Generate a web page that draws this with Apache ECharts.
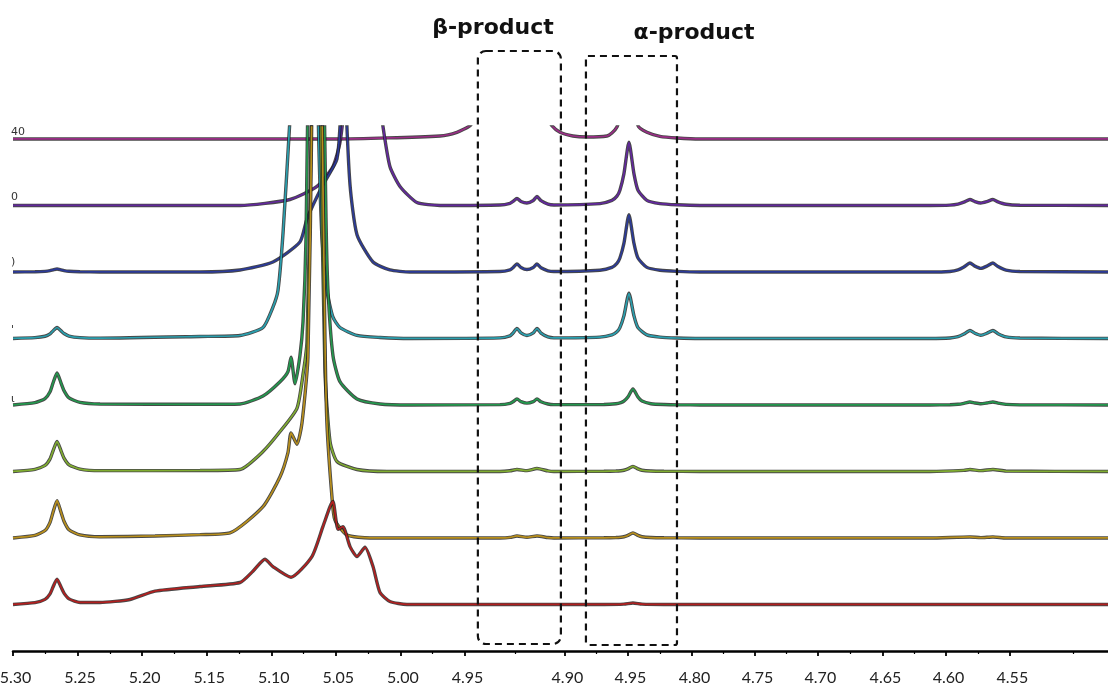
<!DOCTYPE html>
<html><head><meta charset="utf-8">
<script src="https://cdn.jsdelivr.net/npm/echarts@6/dist/echarts.min.js"></script>
<style>html,body{margin:0;padding:0;background:#fff}#c{width:1108px;height:693px}</style>
</head><body><div id="c"></div>
<script>
// ---- axis ticks (the reference axis is spliced, so labels are placed at their drawn positions) ----
const tickPos = [5.30, 5.25, 5.20, 5.15, 5.10, 5.05, 5.00, 4.95, 4.8726, 4.8238, 4.7742, 4.7254, 4.6767, 4.6263, 4.5775, 4.5280];
const tickLabels = ['5.30', '5.25', '5.20', '5.15', '5.10', '5.05', '5.00', '4.95', '4.90', '4.95', '4.80', '4.75', '4.70', '4.65', '4.60', '4.55'];
const minorPos = [5.275, 5.225, 5.175, 5.125, 5.075, 5.025, 4.975, 4.9113, 4.8482, 4.799, 4.7498, 4.701, 4.6515, 4.6019, 4.5528, 4.4788];

// ---- trace names (stack order top -> bottom) ----
const traceNames = ['40', '0', ')', "'", 'ι', '', '', ''];

// ---- spectra: [ppm, intensity above own baseline] ----
const t1 = [[5.300,0],[5.050,0],[4.9693,0.045],[4.9562,0.1],[4.9461,0.2],[4.9422,0.32],[4.9306,1.0],[4.9144,3.0],[4.8957,1.0],[4.8857,0.32],[4.8826,0.2],[4.8764,0.1],[4.8664,0.045],[4.8555,0.03],[4.8400,0.045],[4.8362,0.09],[4.8323,0.18],[4.8300,0.35],[4.8269,0.8],[4.8230,3.0],[4.8191,0.8],[4.8160,0.2],[4.8091,0.1],[4.7990,0.04],[4.7858,0.015],[4.7680,0],[4.452,0]];

const t2 = [[5.300,0],[5.1242,0],[5.0855,0.09],[5.0646,0.286],[5.0522,0.586],[5.0468,0.947],[5.0429,1.65],[5.0390,3.0],[5.0298,8.0],[5.0197,3.0],[5.0158,1.6],[5.0135,1.19],[5.0081,0.586],[5.0003,0.286],[4.9872,0.045],[4.9693,0],
 [4.9229,0.007],[4.9151,0.032],[4.9128,0.06],[4.9097,0.105],[4.9066,0.06],[4.9020,0.038],[4.8971,0.075],[4.8942,0.135],[4.8911,0.072],[4.8857,0.02],[4.8811,0.008],
 [4.8455,0.028],[4.8362,0.076],[4.8323,0.14],[4.8300,0.23],[4.8269,0.475],[4.8230,0.95],[4.8191,0.475],[4.8160,0.23],[4.8091,0.076],[4.7990,0.028],[4.7858,0.01],[4.7680,0],
 [4.5899,0],[4.5744,0.005],[4.5682,0.02],[4.5636,0.05],[4.5589,0.09],[4.5551,0.058],[4.5505,0.036],[4.5458,0.058],[4.5411,0.09],[4.5372,0.054],[4.5310,0.018],[4.5202,0.004],[4.452,0]];

const t3 = [[5.300,0],[5.2830,0.003],[5.2752,0.009],[5.2713,0.019],[5.2690,0.031],[5.2659,0.045],[5.2628,0.031],[5.2605,0.02],[5.2566,0.01],[5.2481,0.004],[5.2326,0],
 [5.1552,0],[5.1242,0.03],[5.0987,0.15],[5.0778,0.45],[5.0723,0.8],[5.0600,1.31],[5.0491,1.70],[5.0460,2.6],[5.0445,8.0],[5.0421,2.6],[5.0390,1.31],[5.0336,0.56],[5.0212,0.15],[5.0081,0.03],[4.9926,0],
 [4.9229,0.007],[4.9151,0.032],[4.9128,0.064],[4.9097,0.12],[4.9066,0.067],[4.9020,0.036],[4.8971,0.067],[4.8942,0.12],[4.8911,0.064],[4.8857,0.018],[4.8811,0.007],
 [4.8455,0.026],[4.8362,0.069],[4.8323,0.13],[4.8300,0.21],[4.8269,0.43],[4.8230,0.86],[4.8191,0.43],[4.8160,0.21],[4.8091,0.069],[4.7990,0.026],[4.7858,0.009],[4.7680,0],
 [4.5899,0],[4.5744,0.008],[4.5682,0.03],[4.5636,0.074],[4.5589,0.135],[4.5551,0.088],[4.5505,0.054],[4.5458,0.088],[4.5411,0.135],[4.5372,0.081],[4.5310,0.027],[4.5202,0.007],[4.452,0]];

const t4 = [[5.300,0],[5.2830,0.012],[5.2752,0.033],[5.2713,0.069],[5.2690,0.114],[5.2659,0.165],[5.2628,0.114],[5.2605,0.074],[5.2566,0.036],[5.2481,0.013],[5.2326,0.005],
 [5.1552,0.03],[5.1242,0.045],[5.1064,0.165],[5.0987,0.47],[5.0948,0.72],[5.0909,1.58],[5.0855,3.3],[5.0778,6.0],[5.0716,12.0],[5.0638,3.5],[5.0607,1.5],[5.0569,0.72],[5.0522,0.32],[5.0468,0.165],[5.0336,0.045],[5.0158,0.015],[4.9926,0],
 [4.9229,0.009],[4.9151,0.04],[4.9128,0.08],[4.9097,0.15],[4.9066,0.084],[4.9020,0.045],[4.8971,0.084],[4.8942,0.15],[4.8911,0.08],[4.8857,0.023],[4.8811,0.009],
 [4.8455,0.02],[4.8362,0.054],[4.8323,0.1],[4.8300,0.163],[4.8269,0.34],[4.8230,0.68],[4.8191,0.34],[4.8160,0.163],[4.8091,0.054],[4.7990,0.02],[4.7858,0.007],[4.7680,0],
 [4.5899,0],[4.5744,0.007],[4.5682,0.026],[4.5636,0.066],[4.5589,0.12],[4.5551,0.078],[4.5505,0.048],[4.5458,0.078],[4.5411,0.12],[4.5372,0.072],[4.5310,0.024],[4.5202,0.006],[4.452,0]];

const t5 = [[5.300,0],[5.2830,0.034],[5.2752,0.096],[5.2713,0.2],[5.2690,0.33],[5.2659,0.48],[5.2628,0.33],[5.2605,0.216],[5.2566,0.106],[5.2481,0.038],[5.2326,0.014],
 [5.1552,0.01],[5.1242,0.015],[5.1064,0.135],[5.0932,0.35],[5.0871,0.5],[5.0847,0.72],[5.0816,0.32],[5.0778,0.74],[5.0754,1.25],[5.0731,2.5],[5.0708,6.0],[5.0654,14.0],[5.0600,6.0],[5.0576,2.8],[5.0561,1.74],[5.0522,0.74],[5.0468,0.35],[5.0336,0.09],[5.0158,0.015],[4.9926,0],
 [4.9229,0.005],[4.9151,0.024],[4.9128,0.048],[4.9097,0.09],[4.9066,0.05],[4.9020,0.027],[4.8971,0.05],[4.8942,0.09],[4.8911,0.048],[4.8857,0.014],[4.8811,0.005],
 [4.8424,0.007],[4.8331,0.019],[4.8292,0.036],[4.8269,0.058],[4.8238,0.12],[4.8199,0.24],[4.8160,0.12],[4.8129,0.058],[4.8060,0.019],[4.7959,0.007],[4.7827,0.002],[4.7680,0],
 [4.5899,0],[4.5744,0.003],[4.5682,0.01],[4.5636,0.025],[4.5589,0.045],[4.5551,0.03],[4.5505,0.018],[4.5458,0.03],[4.5411,0.045],[4.5372,0.027],[4.5310,0.009],[4.5202,0.002],[4.452,0]];

const t6 = [[5.300,0],[5.2830,0.032],[5.2752,0.09],[5.2713,0.19],[5.2690,0.31],[5.2659,0.45],[5.2628,0.31],[5.2605,0.2],[5.2566,0.1],[5.2481,0.036],[5.2326,0.013],
 [5.1552,0.015],[5.1242,0.03],[5.1064,0.3],[5.0932,0.6],[5.0801,0.95],[5.0754,1.46],[5.0723,1.95],[5.0692,5.0],[5.0654,14.0],[5.0615,5.0],[5.0584,1.5],[5.0545,0.45],[5.0491,0.15],[5.0336,0.03],[5.0104,0],
 [4.9229,0],[4.9151,0.01],[4.9097,0.03],[4.9020,0.012],[4.8942,0.045],[4.8857,0.008],[4.8811,0],
 [4.8424,0.002],[4.8331,0.006],[4.8292,0.011],[4.8269,0.018],[4.8238,0.038],[4.8199,0.075],[4.8160,0.038],[4.8129,0.018],[4.8060,0.006],[4.7959,0.002],[4.7680,0],
 [4.5899,0],[4.5636,0.016],[4.5589,0.03],[4.5505,0.012],[4.5411,0.03],[4.5310,0.006],[4.452,0]];

const t7 = [[5.300,0],[5.2830,0.039],[5.2752,0.112],[5.2713,0.235],[5.2690,0.386],[5.2659,0.56],[5.2628,0.386],[5.2605,0.252],[5.2566,0.123],[5.2481,0.045],[5.2326,0.017],
 [5.1900,0.03],[5.1552,0.05],[5.1320,0.075],[5.1064,0.47],[5.0932,0.92],[5.0871,1.28],[5.0847,1.58],[5.0801,1.41],[5.0762,1.73],[5.0716,2.72],[5.0685,6.5],[5.0646,15.0],[5.0607,6.5],[5.0584,3.0],[5.0569,1.73],[5.0530,0.62],[5.0507,0.27],[5.0414,0.045],[5.0236,0],
 [4.9229,0],[4.9151,0.008],[4.9097,0.03],[4.9020,0.01],[4.8942,0.03],[4.8857,0.006],[4.8811,0],
 [4.8424,0.002],[4.8331,0.006],[4.8292,0.011],[4.8269,0.018],[4.8238,0.038],[4.8199,0.075],[4.8160,0.038],[4.8129,0.018],[4.8060,0.006],[4.7959,0.002],[4.7680,0],
 [4.5899,0],[4.5589,0.015],[4.5505,0.005],[4.5411,0.015],[4.5310,0],[4.452,0]];

const t8 = [[5.300,0],[5.2830,0.027],[5.2752,0.076],[5.2713,0.16],[5.2690,0.262],[5.2659,0.38],[5.2628,0.262],[5.2605,0.171],[5.2566,0.084],[5.2481,0.03],[5.2326,0.03],
 [5.2094,0.075],[5.1900,0.2],[5.1552,0.27],[5.1242,0.33],[5.1142,0.5],[5.1049,0.68],[5.0987,0.57],[5.0847,0.41],[5.0685,0.72],[5.0600,1.17],[5.0545,1.47],[5.0522,1.55],[5.0483,1.13],[5.0445,1.17],[5.0390,0.87],[5.0336,0.72],[5.0274,0.86],[5.0212,0.57],[5.0158,0.18],[5.0081,0.045],[4.9949,0],
 [4.8424,0],[4.8269,0.005],[4.8199,0.022],[4.8129,0.005],[4.7959,0],[4.452,0]];

const traces = [t1, t2, t3, t4, t5, t6, t7, t8];
const colors = ['#9a2d86', '#62289c', '#2b3a98', '#2a9fae', '#23984e', '#80ad30', '#b88f1c', '#b21f1f'];

// ---- annotation boxes (ppm range) ----
const boxes = [
  {label: 'β-product', left: 4.940, right: 4.8757},
  {label: 'α-product', left: 4.8563, right: 4.7858}
];

const chart = echarts.init(document.getElementById('c'), null, {renderer: 'canvas'});
const n = traces.length;
const series = [];
traces.forEach((tr, i) => {
  const off = n - 1 - i;
  const data = tr.map(p => [p[0], p[1] + off]);
  series.push({type: 'line', data, symbol: 'none', smooth: 0.2, clip: true, silent: true,
    lineStyle: {color: 'rgba(25,25,25,0.8)', width: 3.4}, z: 2 + i * 2});
  series.push({type: 'line', data, symbol: 'none', smooth: 0.2, clip: true, silent: true,
    lineStyle: {color: colors[i], width: 1.7}, z: 3 + i * 2});
});

const xCommon = {type: 'value', min: 4.452, max: 5.30, inverse: true, splitLine: {show: false}};
chart.setOption({
  animation: false,
  backgroundColor: '#fff',
  grid: {left: 13, right: 0, top: 127, bottom: 42, containLabel: false, outerBoundsMode: 'none'},
  xAxis: [
    Object.assign({}, xCommon, {
      position: 'bottom',
      axisLine: {show: true, onZero: false, lineStyle: {color: '#000', width: 2.5}},
      axisTick: {show: true, length: 5, lineStyle: {color: '#000', width: 1.8}, customValues: tickPos},
      axisLabel: {show: true, customValues: tickPos, margin: 19, color: '#222', fontSize: 16, fontFamily: 'Lato',
        showMinLabel: true, showMaxLabel: true, padding: [0, 0, 0, 5],
        formatter: v => { const k = tickPos.findIndex(p => Math.abs(p - v) < 1e-6); return k >= 0 ? tickLabels[k] : ''; }}
    }),
    Object.assign({}, xCommon, {
      position: 'bottom',
      axisLine: {show: false, onZero: false},
      axisTick: {show: true, length: 3, lineStyle: {color: '#000', width: 1.2}, customValues: minorPos},
      axisLabel: {show: false}
    })
  ],
  yAxis: {type: 'value', min: -0.7, max: 7.18, show: false, splitLine: {show: false}},
  series
});

function drawGraphics() {
  const g = [];
  const tops = [51, 56], bottoms = [644, 645], radii = [8, 2];
  const textPos = [[493, 28], [694, 33]];
  boxes.forEach((b, i) => {
    const xl = chart.convertToPixel({xAxisIndex: 0}, b.left);
    const xr = chart.convertToPixel({xAxisIndex: 0}, b.right);
    g.push({type: 'rect', z: 100, shape: {x: xl, y: tops[i], width: xr - xl, height: bottoms[i] - tops[i], r: radii[i]},
      style: {fill: 'none', stroke: '#111', lineWidth: 2.2, lineDash: [7, 5]}});
    g.push({type: 'text', z: 100, x: textPos[i][0], y: textPos[i][1],
      style: {text: b.label, fill: '#111', font: 'bold 22px "DejaVu Sans"', align: 'center', verticalAlign: 'middle'}});
  });
  const ly = [132, 197, 262, 330, 399];
  ly.forEach((y, i) => {
    if (!traceNames[i]) return;
    g.push({type: 'text', z: 100, x: 11, y: y,
      style: {text: traceNames[i], fill: '#333', font: '11px "DejaVu Sans"', align: 'left', verticalAlign: 'middle'}});
  });
  chart.setOption({graphic: g});
}
drawGraphics();
</script>
</body></html>
